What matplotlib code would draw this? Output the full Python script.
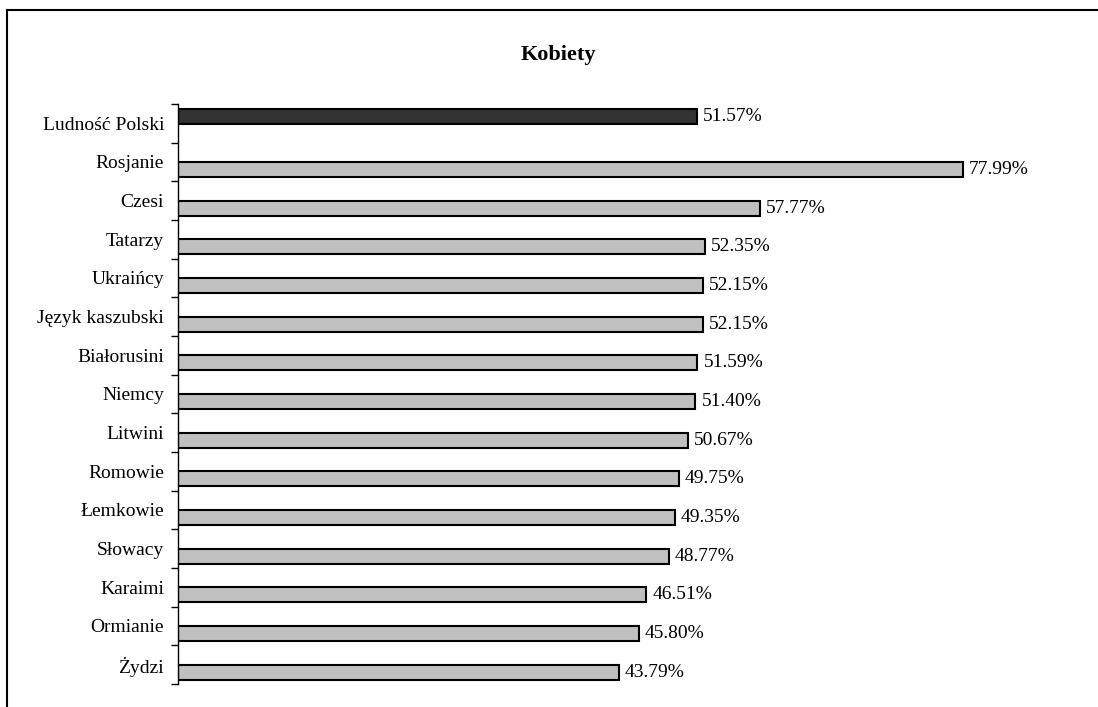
import numpy as np
import matplotlib.pyplot as plt
from matplotlib.lines import Line2D

plt.rcParams['font.family'] = ['Liberation Serif', 'DejaVu Serif']

categories = ['Ludność Polski', 'Rosjanie', 'Czesi', 'Tatarzy', 'Ukraińcy',
              'Język kaszubski', 'Białorusini', 'Niemcy', 'Litwini', 'Romowie',
              'Łemkowie', 'Słowacy', 'Karaimi', 'Ormianie', 'Żydzi']
values = [51.57, 77.99, 57.77, 52.35, 52.15, 52.15, 51.59, 51.40, 50.67,
          49.75, 49.35, 48.77, 46.51, 45.80, 43.79]
labels = ['51.57%', '77.99%', '57.77%', '52.35%', '52.15%', '52.15%', '51.59%',
          '51.40%', '50.67%', '49.75%', '49.35%', '48.77%', '46.51%', '45.80%',
          '43.79%']
is_total = [True] + [False]*14

fig = plt.figure(figsize=(10.98, 7.07), dpi=100)
ax = fig.add_axes([178/1098, 1-684/707, 906/1098, 580/707])

n = len(categories)
pos = np.arange(n)
h = 0.39
for i in range(n):
    if is_total[i]:
        y = pos[i] - 0.18
        col = '#333333'
    else:
        y = pos[i] + 0.195
        col = '#c0c0c0'
    ax.barh(y, values[i], height=h, color=col, edgecolor='black', linewidth=1.5)
    ax.text(values[i] + 0.6, y, labels[i], va='center', ha='left', fontsize=14)

ax.set_xlim(0, 90)
ax.set_ylim(n - 0.5, -0.5)
ax.set_yticks(pos)
ax.set_yticklabels(categories, fontsize=14)
ax.set_yticks(np.arange(n + 1) - 0.5, minor=True)
ax.tick_params(axis='y', which='major', length=0, pad=10)
ax.tick_params(axis='y', which='minor', length=5, width=1)
ax.set_xticks([])
for s in ['top', 'right', 'bottom']:
    ax.spines[s].set_visible(False)
ax.spines['left'].set_linewidth(1)

fig.text(558/1098, 1-55/707, 'Kobiety', ha='center', va='center',
         fontsize=16, fontweight='bold')

fig.add_artist(Line2D([7/1098, 1], [1-10/707, 1-10/707], color='black', lw=1.5))
fig.add_artist(Line2D([7/1098, 7/1098], [0, 1-10/707], color='black', lw=1.5))

plt.savefig('out.png', dpi=100)
